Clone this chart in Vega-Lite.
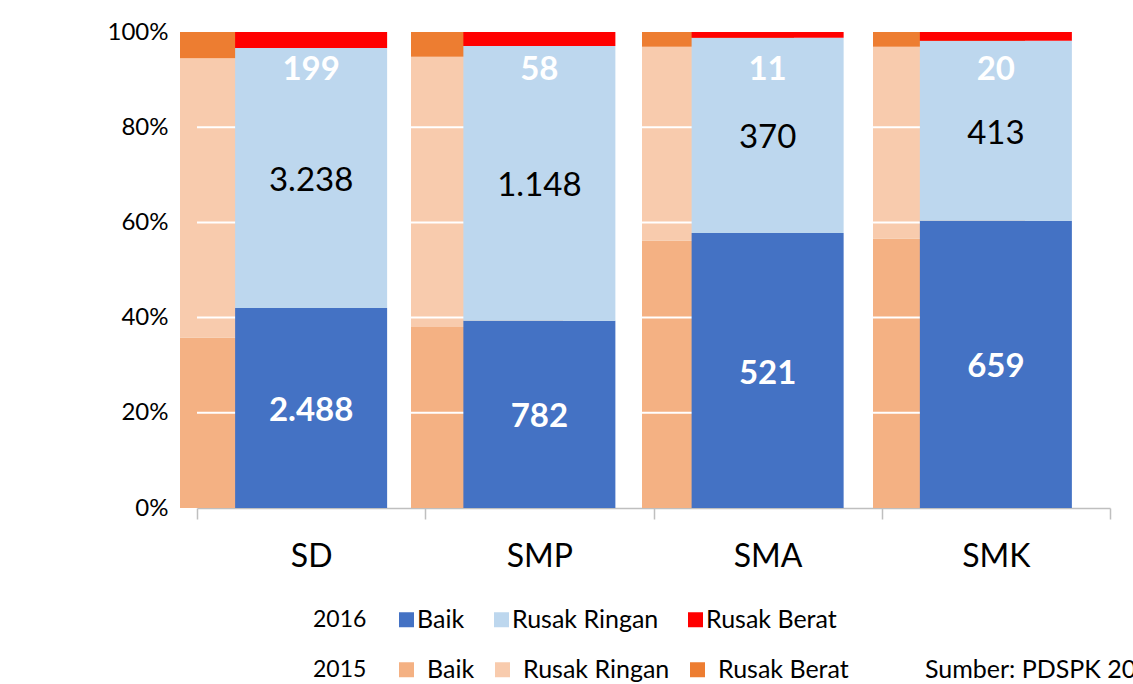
{
  "$schema": "https://vega.github.io/schema/vega-lite/v6.json",
  "width": 913,
  "height": 476,
  "autosize": {"type": "none"},
  "padding": {"left": 197, "top": 32, "right": 23, "bottom": 176},
  "background": "white",
  "config": {
    "font": "Lato",
    "view": {"stroke": null},
    "locale": {"number": {"decimal": ",", "thousands": ".", "grouping": [3], "currency": ["", ""]}},
    "axisX": {
      "labelFontSize": 32, "labelColor": "black", "labelAngle": 0,
      "domainColor": "#bfbfbf", "domainWidth": 1.5, "tickColor": "#bfbfbf", "tickWidth": 1.5,
      "tickSize": 11, "labelPadding": 22, "grid": false
    },
    "axisY": {
      "grid": false, "domain": false, "ticks": false, "labelFontSize": 24,
      "labelColor": "black", "labelPadding": 29
    }
  },
  "title": {
    "text": "Sumber: PDSPK 2016",
    "orient": "bottom",
    "anchor": "start",
    "frame": "group",
    "dx": 728,
    "offset": -25,
    "fontSize": 25,
    "fontWeight": "normal",
    "color": "black",
    "font": "Lato"
  },
  "datasets": {
    "d2015": [
      {"cat": "SD", "status": "Baik", "v": 35.8, "o": 1},
      {"cat": "SD", "status": "Rusak Ringan", "v": 58.7, "o": 2},
      {"cat": "SD", "status": "Rusak Berat", "v": 5.5, "o": 3},
      {"cat": "SMP", "status": "Baik", "v": 38.0, "o": 1},
      {"cat": "SMP", "status": "Rusak Ringan", "v": 56.8, "o": 2},
      {"cat": "SMP", "status": "Rusak Berat", "v": 5.2, "o": 3},
      {"cat": "SMA", "status": "Baik", "v": 56.2, "o": 1},
      {"cat": "SMA", "status": "Rusak Ringan", "v": 40.7, "o": 2},
      {"cat": "SMA", "status": "Rusak Berat", "v": 3.1, "o": 3},
      {"cat": "SMK", "status": "Baik", "v": 56.6, "o": 1},
      {"cat": "SMK", "status": "Rusak Ringan", "v": 40.3, "o": 2},
      {"cat": "SMK", "status": "Rusak Berat", "v": 3.1, "o": 3}
    ],
    "d2016": [
      {"cat": "SD", "status": "Baik", "v": 2488, "o": 1},
      {"cat": "SD", "status": "Rusak Ringan", "v": 3238, "o": 2},
      {"cat": "SD", "status": "Rusak Berat", "v": 199, "o": 3},
      {"cat": "SMP", "status": "Baik", "v": 782, "o": 1},
      {"cat": "SMP", "status": "Rusak Ringan", "v": 1148, "o": 2},
      {"cat": "SMP", "status": "Rusak Berat", "v": 58, "o": 3},
      {"cat": "SMA", "status": "Baik", "v": 521, "o": 1},
      {"cat": "SMA", "status": "Rusak Ringan", "v": 370, "o": 2},
      {"cat": "SMA", "status": "Rusak Berat", "v": 11, "o": 3},
      {"cat": "SMK", "status": "Baik", "v": 659, "o": 1},
      {"cat": "SMK", "status": "Rusak Ringan", "v": 413, "o": 2},
      {"cat": "SMK", "status": "Rusak Berat", "v": 20, "o": 3}
    ],
    "grid": [{"p": 0.2}, {"p": 0.4}, {"p": 0.6}, {"p": 0.8}]
  },
  "layer": [
    {
      "data": {"name": "d2015"},
      "mark": {"type": "bar"},
      "encoding": {
        "x": {
          "field": "cat", "type": "nominal", "sort": ["SD", "SMP", "SMA", "SMK"],
          "scale": {"range": [-17, 828], "paddingInner": 0.342, "paddingOuter": 0},
          "axis": null
        },
        "y": {"field": "v", "type": "quantitative", "stack": "normalize", "title": null, "scale": {"domain": [0, 1], "nice": false}},
        "order": {"field": "o", "type": "quantitative"},
        "color": {
          "field": "status", "type": "nominal",
          "scale": {"domain": ["Baik", "Rusak Ringan", "Rusak Berat"], "range": ["#F4B183", "#F8CBAD", "#ED7D31"]},
          "legend": {
            "orient": "none", "legendX": 116, "legendY": 625, "direction": "horizontal",
            "title": "2015", "titleOrient": "left", "titleFontSize": 23, "titleFontWeight": "normal", "titleColor": "black", "titlePadding": 27,
            "symbolType": "square", "symbolSize": 225, "symbolStrokeWidth": 0,
            "labelFontSize": 25, "labelColor": "black", "labelOffset": 8, "columnPadding": 15, "labelLimit": 300
          }
        }
      }
    },
    {
      "data": {"name": "grid"},
      "mark": {"type": "rule", "color": "white", "strokeWidth": 2},
      "encoding": {
        "y": {"field": "p", "type": "quantitative", "title": null}
      }
    },
    {
      "data": {"name": "d2016"},
      "layer": [
        {
          "mark": {"type": "bar", "width": {"band": 0.666}},
          "encoding": {
            "x": {
              "field": "cat", "type": "nominal", "sort": ["SD", "SMP", "SMA", "SMK"], "title": null,
              "scale": {"paddingInner": 0, "paddingOuter": 0},
              "axis": {"tickBand": "extent"}
            },
            "y": {
              "field": "v", "type": "quantitative", "stack": "normalize", "title": null,
              "axis": {"format": ".0%", "values": [0, 0.2, 0.4, 0.6, 0.8, 1]}
            },
            "order": {"field": "o", "type": "quantitative"},
            "color": {
              "field": "status", "type": "nominal",
              "scale": {"domain": ["Baik", "Rusak Ringan", "Rusak Berat"], "range": ["#4472C4", "#BDD7EE", "#FF0000"]},
              "legend": {
                "orient": "none", "legendX": 116, "legendY": 575, "direction": "horizontal",
                "title": "2016", "titleOrient": "left", "titleFontSize": 23, "titleFontWeight": "normal", "titleColor": "black", "titlePadding": 27,
                "symbolType": "square", "symbolSize": 225, "symbolStrokeWidth": 0,
                "labelFontSize": 25, "labelColor": "black", "labelOffset": -2, "columnPadding": 24, "labelLimit": 300
              }
            }
          }
        },
        {
          "transform": [
            {"stack": "v", "groupby": ["cat"], "sort": [{"field": "o", "order": "ascending"}], "offset": "normalize", "as": ["s0", "s1"]},
            {"filter": "datum.status == 'Baik'"},
            {"fold": ["s0", "s1"], "as": ["k", "pos"]},
            {"aggregate": [{"op": "mean", "field": "pos", "as": "mid"}, {"op": "max", "field": "v", "as": "v"}], "groupby": ["cat", "status"]}
          ],
          "mark": {"type": "text", "color": "white", "fontWeight": "bold", "fontSize": 33, "baseline": "middle", "dy": 3},
          "encoding": {
            "x": {"field": "cat", "type": "nominal", "sort": ["SD", "SMP", "SMA", "SMK"], "title": null},
            "y": {"field": "mid", "type": "quantitative", "title": null},
            "text": {"field": "v", "type": "quantitative", "format": ",d"}
          }
        },
        {
          "transform": [
            {"stack": "v", "groupby": ["cat"], "sort": [{"field": "o", "order": "ascending"}], "offset": "normalize", "as": ["s0", "s1"]},
            {"filter": "datum.status == 'Rusak Ringan'"},
            {"fold": ["s0", "s1"], "as": ["k", "pos"]},
            {"aggregate": [{"op": "mean", "field": "pos", "as": "mid"}, {"op": "max", "field": "v", "as": "v"}], "groupby": ["cat", "status"]}
          ],
          "mark": {"type": "text", "color": "black", "fontWeight": "normal", "fontSize": 33, "baseline": "middle", "dy": 3},
          "encoding": {
            "x": {"field": "cat", "type": "nominal", "sort": ["SD", "SMP", "SMA", "SMK"], "title": null},
            "y": {"field": "mid", "type": "quantitative", "title": null},
            "text": {"field": "v", "type": "quantitative", "format": ",d"}
          }
        },
        {
          "transform": [{"filter": "datum.status == 'Rusak Berat'"}],
          "mark": {"type": "text", "color": "white", "fontWeight": "bold", "fontSize": 33, "baseline": "middle", "dy": 38},
          "encoding": {
            "x": {"field": "cat", "type": "nominal", "sort": ["SD", "SMP", "SMA", "SMK"], "title": null},
            "y": {"datum": 1, "type": "quantitative", "title": null},
            "text": {"field": "v", "type": "quantitative", "format": ",d"}
          }
        }
      ]
    }
  ],
  "resolve": {"scale": {"x": "independent", "color": "independent"}}
}
